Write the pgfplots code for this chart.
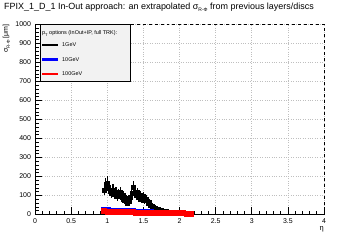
\documentclass[border=0pt]{standalone}
\usepackage{fontspec}
\setmainfont{Liberation Sans}
\usepackage{pgfplots}
\pgfplotsset{compat=1.18}
\usepackage{pgfplotstable}

\pgfplotstableread{
x y e
0.96 130 28
0.98 160 32
1.00 165 35
1.02 140 30
1.04 125 28
1.06 115 26
1.08 130 28
1.10 105 24
1.12 120 26
1.14 95 22
1.16 110 24
1.18 120 26
1.20 90 22
1.22 100 24
1.24 75 20
1.26 85 20
1.28 60 16
1.30 70 18
1.32 90 22
1.34 110 24
1.36 145 30
1.38 120 26
1.40 100 24
1.42 115 26
1.44 90 22
1.46 100 24
1.48 80 20
1.50 95 22
1.52 75 20
1.54 80 20
1.56 60 16
1.58 65 16
1.60 50 14
1.62 45 13
1.64 38 12
1.66 35 11
1.68 30 10
1.70 27 9
1.72 24 8
1.74 22 8
1.76 20 7
1.78 18 6
1.80 17 6
1.82 15 5
1.84 14 5
1.86 13 5
1.88 12 4
1.90 11 4
1.92 10 4
1.94 10 3
1.96 9 3
1.98 9 3
2.00 8 3
}\blackdata

\pgfplotstableread{
x y
0.95 24
1.00 23
1.05 22
1.10 21.5
1.15 21
1.20 20
1.25 19.5
1.30 19
1.35 18
1.40 17
1.45 16
1.50 15
1.55 14
1.60 13
1.65 12
}\bluedata

\pgfplotstableread{
x y
0.95 18
1.00 17
1.05 16
1.10 15.5
1.15 15
1.20 14.5
1.25 14
1.30 13.5
1.35 13
1.40 12
1.45 11.5
1.50 11
1.55 10.5
1.60 10
1.65 9.5
1.70 9
1.75 8.5
1.80 8
1.85 8
1.90 7.5
1.95 7.5
2.00 7
2.05 7
2.10 6.5
2.15 6.5
}\reddata

\begin{document}
\begin{tikzpicture}
\path[draw=none, fill=white] (0bp,0bp) rectangle (360bp,240bp);
\begin{axis}[
  at={(35bp,25.5bp)}, anchor=south west,
  width=289bp, height=190bp, scale only axis,
  xmin=0, xmax=4, ymin=0, ymax=1000,
  axis lines*=left,
  x axis line style={-}, y axis line style={-},
  tick align=inside,
  xtick={0,0.5,...,4}, ytick={0,100,...,1000},
  xticklabels={0,0.5,1,1.5,2,2.5,3,3.5,4},
  minor x tick num=4, minor y tick num=4,
  major tick length=7bp, minor tick length=3.5bp,
  tick style={black, line width=0.6bp},
  grid=major,
  major grid style={gray!50, dotted, line width=0.6bp},
  tick label style={font=\fontsize{7}{8}\selectfont},
  /pgf/number format/assume math mode=true,
  /pgf/number format/set thousands separator={},
  xticklabel style={yshift=-1bp},
  yticklabel style={xshift=-0.5bp},
  clip=false,
]
\addplot[only marks, mark=square*, mark size=2bp, black,
  error bars/.cd, y dir=both, y explicit,
  error bar style={line width=1.3bp, black}, error mark=none]
  table[x=x, y=y, y error=e] {\blackdata};
\addplot[only marks, mark=square*, mark size=2.5bp, blue] table[x=x, y=y] {\bluedata};
\addplot[only marks, mark=square*, mark size=2.5bp, red] table[x=x, y=y] {\reddata};
\draw[dashed, line width=0.8bp] (rel axis cs:0,1) -- (rel axis cs:1,1) -- (rel axis cs:1,0);
\end{axis}
% title
\node[anchor=base west, inner sep=0pt, font=\fontsize{9}{10}\selectfont] at (4bp,230.5bp)
  {FPIX\_1\_D\_1 In-Out approach: an extrapolated σ\raisebox{-2.5bp}{\fontsize{5}{5}\selectfont R-Φ} from previous layers/discs};
% y label
\node[rotate=90, anchor=north east, inner sep=0pt, font=\fontsize{7}{8}\selectfont] at (2.5bp,215.7bp)
  {σ\raisebox{-2bp}{\fontsize{4.5}{5}\selectfont R-Φ} [μm]};
% x label
\node[anchor=north east, inner sep=0pt, font=\fontsize{7.5}{8}\selectfont] at (324bp,14bp) {η};
% legend
\draw[fill=gray!10, line width=0.6bp] (40bp,215.7bp) rectangle (130bp,159bp);
\node[anchor=west, inner sep=0pt, font=\fontsize{5.5}{6}\selectfont] at (42bp,206.5bp)
  {p\raisebox{-1.5bp}{\fontsize{4}{4}\selectfont T} options (InOut+IP, full TRK):};
\draw[black, line width=2.2bp] (42bp,195bp) -- (58bp,195bp);
\draw[blue, line width=2.2bp] (42bp,180.5bp) -- (58bp,180.5bp);
\draw[red, line width=2.2bp] (42bp,166bp) -- (58bp,166bp);
\node[anchor=west, inner sep=0pt, font=\fontsize{5.5}{6}\selectfont] at (62bp,195bp) {1GeV};
\node[anchor=west, inner sep=0pt, font=\fontsize{5.5}{6}\selectfont] at (62bp,180.5bp) {10GeV};
\node[anchor=west, inner sep=0pt, font=\fontsize{5.5}{6}\selectfont] at (62bp,166bp) {100GeV};
\end{tikzpicture}
\end{document}
